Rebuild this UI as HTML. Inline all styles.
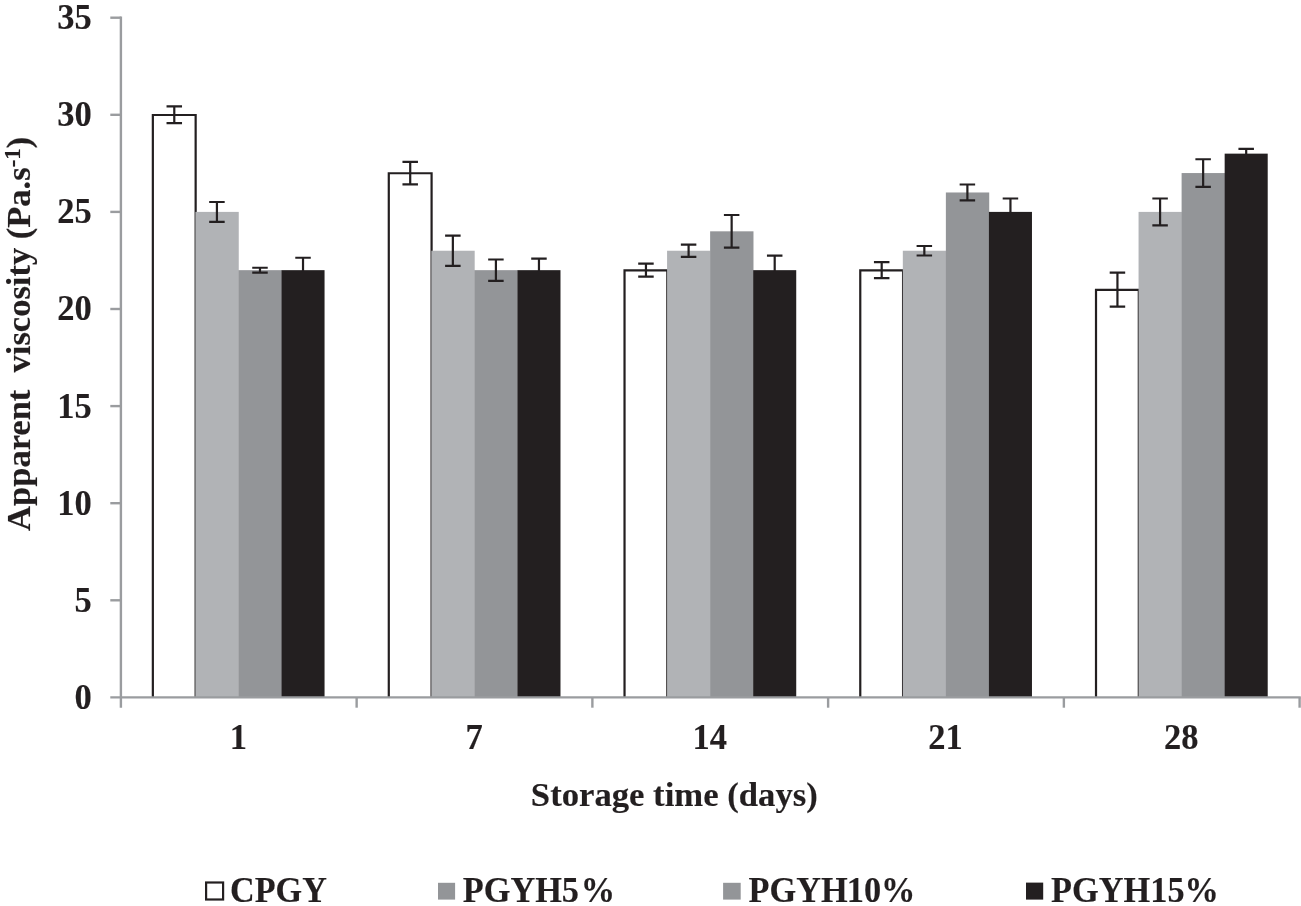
<!DOCTYPE html>
<html lang="en"><head><meta charset="utf-8"><title>Apparent viscosity chart</title>
<style>html,body{margin:0;padding:0;background:#fff}body{width:1301px;height:906px;overflow:hidden}svg{display:block}text{font-family:"Liberation Serif","Times New Roman",serif;font-weight:bold;fill:#231f20;stroke:#231f20;stroke-width:0.15px}</style></head><body>
<svg width="1301" height="906" viewBox="0 0 1301 906">
<rect width="1301" height="906" fill="#fff"/>
<path d="M152.85 697.40 V115.00 H195.65 V697.40" fill="#fff" stroke="#231f20" stroke-width="2.2"/>
<rect x="195.40" y="211.90" width="43.35" height="485.50" fill="#b1b3b6"/>
<rect x="238.45" y="270.16" width="43.35" height="427.24" fill="#939598"/>
<rect x="281.50" y="270.16" width="43.05" height="427.24" fill="#231f20"/>
<path d="M388.79 697.40 V173.26 H431.59 V697.40" fill="#fff" stroke="#231f20" stroke-width="2.2"/>
<rect x="431.34" y="250.74" width="43.35" height="446.66" fill="#b1b3b6"/>
<rect x="474.39" y="270.16" width="43.35" height="427.24" fill="#939598"/>
<rect x="517.44" y="270.16" width="43.05" height="427.24" fill="#231f20"/>
<path d="M624.53 697.40 V270.36 H667.33 V697.40" fill="#fff" stroke="#231f20" stroke-width="2.2"/>
<rect x="667.08" y="250.74" width="43.35" height="446.66" fill="#b1b3b6"/>
<rect x="710.13" y="231.32" width="43.35" height="466.08" fill="#939598"/>
<rect x="753.18" y="270.16" width="43.05" height="427.24" fill="#231f20"/>
<path d="M860.27 697.40 V270.36 H903.07 V697.40" fill="#fff" stroke="#231f20" stroke-width="2.2"/>
<rect x="902.82" y="250.74" width="43.35" height="446.66" fill="#b1b3b6"/>
<rect x="945.87" y="192.48" width="43.35" height="504.92" fill="#939598"/>
<rect x="988.92" y="211.90" width="43.05" height="485.50" fill="#231f20"/>
<path d="M1096.01 697.40 V289.78 H1138.81 V697.40" fill="#fff" stroke="#231f20" stroke-width="2.2"/>
<rect x="1138.56" y="211.90" width="43.35" height="485.50" fill="#b1b3b6"/>
<rect x="1181.61" y="173.06" width="43.35" height="524.34" fill="#939598"/>
<rect x="1224.66" y="153.64" width="43.05" height="543.76" fill="#231f20"/>
<g stroke="#9a9c9f" stroke-width="2.4" fill="none">
<path d="M120.90 16.50 V707.70"/>
<path d="M110.30 697.40 H1300.80"/>
<path d="M110.30 600.30 H120.90"/>
<path d="M110.30 503.20 H120.90"/>
<path d="M110.30 406.10 H120.90"/>
<path d="M110.30 309.00 H120.90"/>
<path d="M110.30 211.90 H120.90"/>
<path d="M110.30 114.80 H120.90"/>
<path d="M110.30 17.70 H120.90"/>
<path d="M356.64 697.40 V707.70"/>
<path d="M592.38 697.40 V707.70"/>
<path d="M828.12 697.40 V707.70"/>
<path d="M1063.86 697.40 V707.70"/>
<path d="M1299.60 697.40 V707.70"/>
</g>
<g stroke="#231f20" stroke-width="2.2" fill="none">
<path d="M174.28 123.15 V106.45 M166.53 106.45 H182.03 M166.53 123.15 H182.03"/>
<path d="M216.93 221.80 V202.00 M209.18 202.00 H224.68 M209.18 221.80 H224.68"/>
<path d="M259.98 272.59 V267.73 M252.23 267.73 H267.73 M252.23 272.59 H267.73"/>
<path d="M303.02 271.16 V257.73 M295.27 257.73 H310.77"/>
<path d="M410.21 184.32 V161.80 M402.46 161.80 H417.96 M402.46 184.32 H417.96"/>
<path d="M452.86 265.89 V235.59 M445.11 235.59 H460.61 M445.11 265.89 H460.61"/>
<path d="M495.91 280.84 V259.48 M488.16 259.48 H503.66 M488.16 280.84 H503.66"/>
<path d="M538.96 271.16 V258.70 M531.21 258.70 H546.71"/>
<path d="M645.95 276.67 V263.65 M638.20 263.65 H653.70 M638.20 276.67 H653.70"/>
<path d="M688.60 256.95 V244.53 M680.85 244.53 H696.35 M680.85 256.95 H696.35"/>
<path d="M731.65 247.63 V215.01 M723.90 215.01 H739.40 M723.90 247.63 H739.40"/>
<path d="M774.70 271.16 V255.59 M766.95 255.59 H782.45"/>
<path d="M881.69 278.12 V262.20 M873.94 262.20 H889.44 M873.94 278.12 H889.44"/>
<path d="M924.34 255.50 V245.98 M916.59 245.98 H932.09 M916.59 255.50 H932.09"/>
<path d="M967.39 200.44 V184.52 M959.64 184.52 H975.14 M959.64 200.44 H975.14"/>
<path d="M1010.44 212.90 V198.50 M1002.69 198.50 H1018.19"/>
<path d="M1117.44 306.59 V272.57 M1109.69 272.57 H1125.19 M1109.69 306.59 H1125.19"/>
<path d="M1160.09 225.30 V198.50 M1152.34 198.50 H1167.84 M1152.34 225.30 H1167.84"/>
<path d="M1203.14 186.85 V159.27 M1195.39 159.27 H1210.89 M1195.39 186.85 H1210.89"/>
<path d="M1246.19 154.64 V148.78 M1238.44 148.78 H1253.94"/>
</g>
<text transform="translate(91.80 708.80) scale(1.0000 1.0350)" font-size="34.5" text-anchor="end" xml:space="preserve" style="white-space:pre">0</text>
<text transform="translate(91.80 611.70) scale(1.0000 1.0350)" font-size="34.5" text-anchor="end" xml:space="preserve" style="white-space:pre">5</text>
<text transform="translate(91.80 514.60) scale(1.0000 1.0350)" font-size="34.5" text-anchor="end" xml:space="preserve" style="white-space:pre">10</text>
<text transform="translate(91.80 417.50) scale(1.0000 1.0350)" font-size="34.5" text-anchor="end" xml:space="preserve" style="white-space:pre">15</text>
<text transform="translate(91.80 320.40) scale(1.0000 1.0350)" font-size="34.5" text-anchor="end" xml:space="preserve" style="white-space:pre">20</text>
<text transform="translate(91.80 223.30) scale(1.0000 1.0350)" font-size="34.5" text-anchor="end" xml:space="preserve" style="white-space:pre">25</text>
<text transform="translate(91.80 126.20) scale(1.0000 1.0350)" font-size="34.5" text-anchor="end" xml:space="preserve" style="white-space:pre">30</text>
<text transform="translate(91.80 29.10) scale(1.0000 1.0350)" font-size="34.5" text-anchor="end" xml:space="preserve" style="white-space:pre">35</text>
<text transform="translate(238.37 748.70) scale(1.0000 1.0350)" font-size="34.5" text-anchor="middle" xml:space="preserve" style="white-space:pre">1</text>
<text transform="translate(474.11 748.70) scale(1.0000 1.0350)" font-size="34.5" text-anchor="middle" xml:space="preserve" style="white-space:pre">7</text>
<text transform="translate(709.85 748.70) scale(1.0000 1.0350)" font-size="34.5" text-anchor="middle" xml:space="preserve" style="white-space:pre">14</text>
<text transform="translate(945.59 748.70) scale(1.0000 1.0350)" font-size="34.5" text-anchor="middle" xml:space="preserve" style="white-space:pre">21</text>
<text transform="translate(1181.33 748.70) scale(1.0000 1.0350)" font-size="34.5" text-anchor="middle" xml:space="preserve" style="white-space:pre">28</text>
<text transform="translate(674.30 805.80) scale(1.0050 1.0000)" font-size="34.5" text-anchor="middle" xml:space="preserve" style="white-space:pre">Storage time (days)</text>
<text transform="translate(30.20 530.90) rotate(-90) scale(1.0000 1.0000)" font-size="34.5" text-anchor="start" xml:space="preserve" style="white-space:pre">Apparent  viscosity (Pa.s<tspan font-size="23" dy="-10.5">-1</tspan><tspan dy="10.5">)</tspan></text>
<rect x="206.1" y="882.5" width="17" height="17" fill="#fff" stroke="#231f20" stroke-width="2.2"/>
<text transform="translate(0 902.20) scale(0.9900 1.0100)" font-size="34.5"><tspan x="232.42">CPGY</tspan></text>
<rect x="438" y="882.8" width="17.1" height="16.8" fill="#939598"/>
<text transform="translate(0 902.20) scale(0.9950 1.0100)" font-size="34.5"><tspan x="465.06">PGYH</tspan><tspan x="564.65">5</tspan><tspan x="583.80">%</tspan></text>
<rect x="723.1" y="882.8" width="17.6" height="16.8" fill="#939598"/>
<text transform="translate(0 902.20) scale(0.9950 1.0100)" font-size="34.5"><tspan x="752.25">PGYH</tspan><tspan x="851.11">10</tspan><tspan x="885.51">%</tspan></text>
<rect x="1026" y="882.6" width="17.2" height="17" fill="#231f20"/>
<text transform="translate(0 902.20) scale(0.9950 1.0100)" font-size="34.5"><tspan x="1056.37">PGYH</tspan><tspan x="1156.03">15</tspan><tspan x="1190.34">%</tspan></text>
</svg></body></html>
